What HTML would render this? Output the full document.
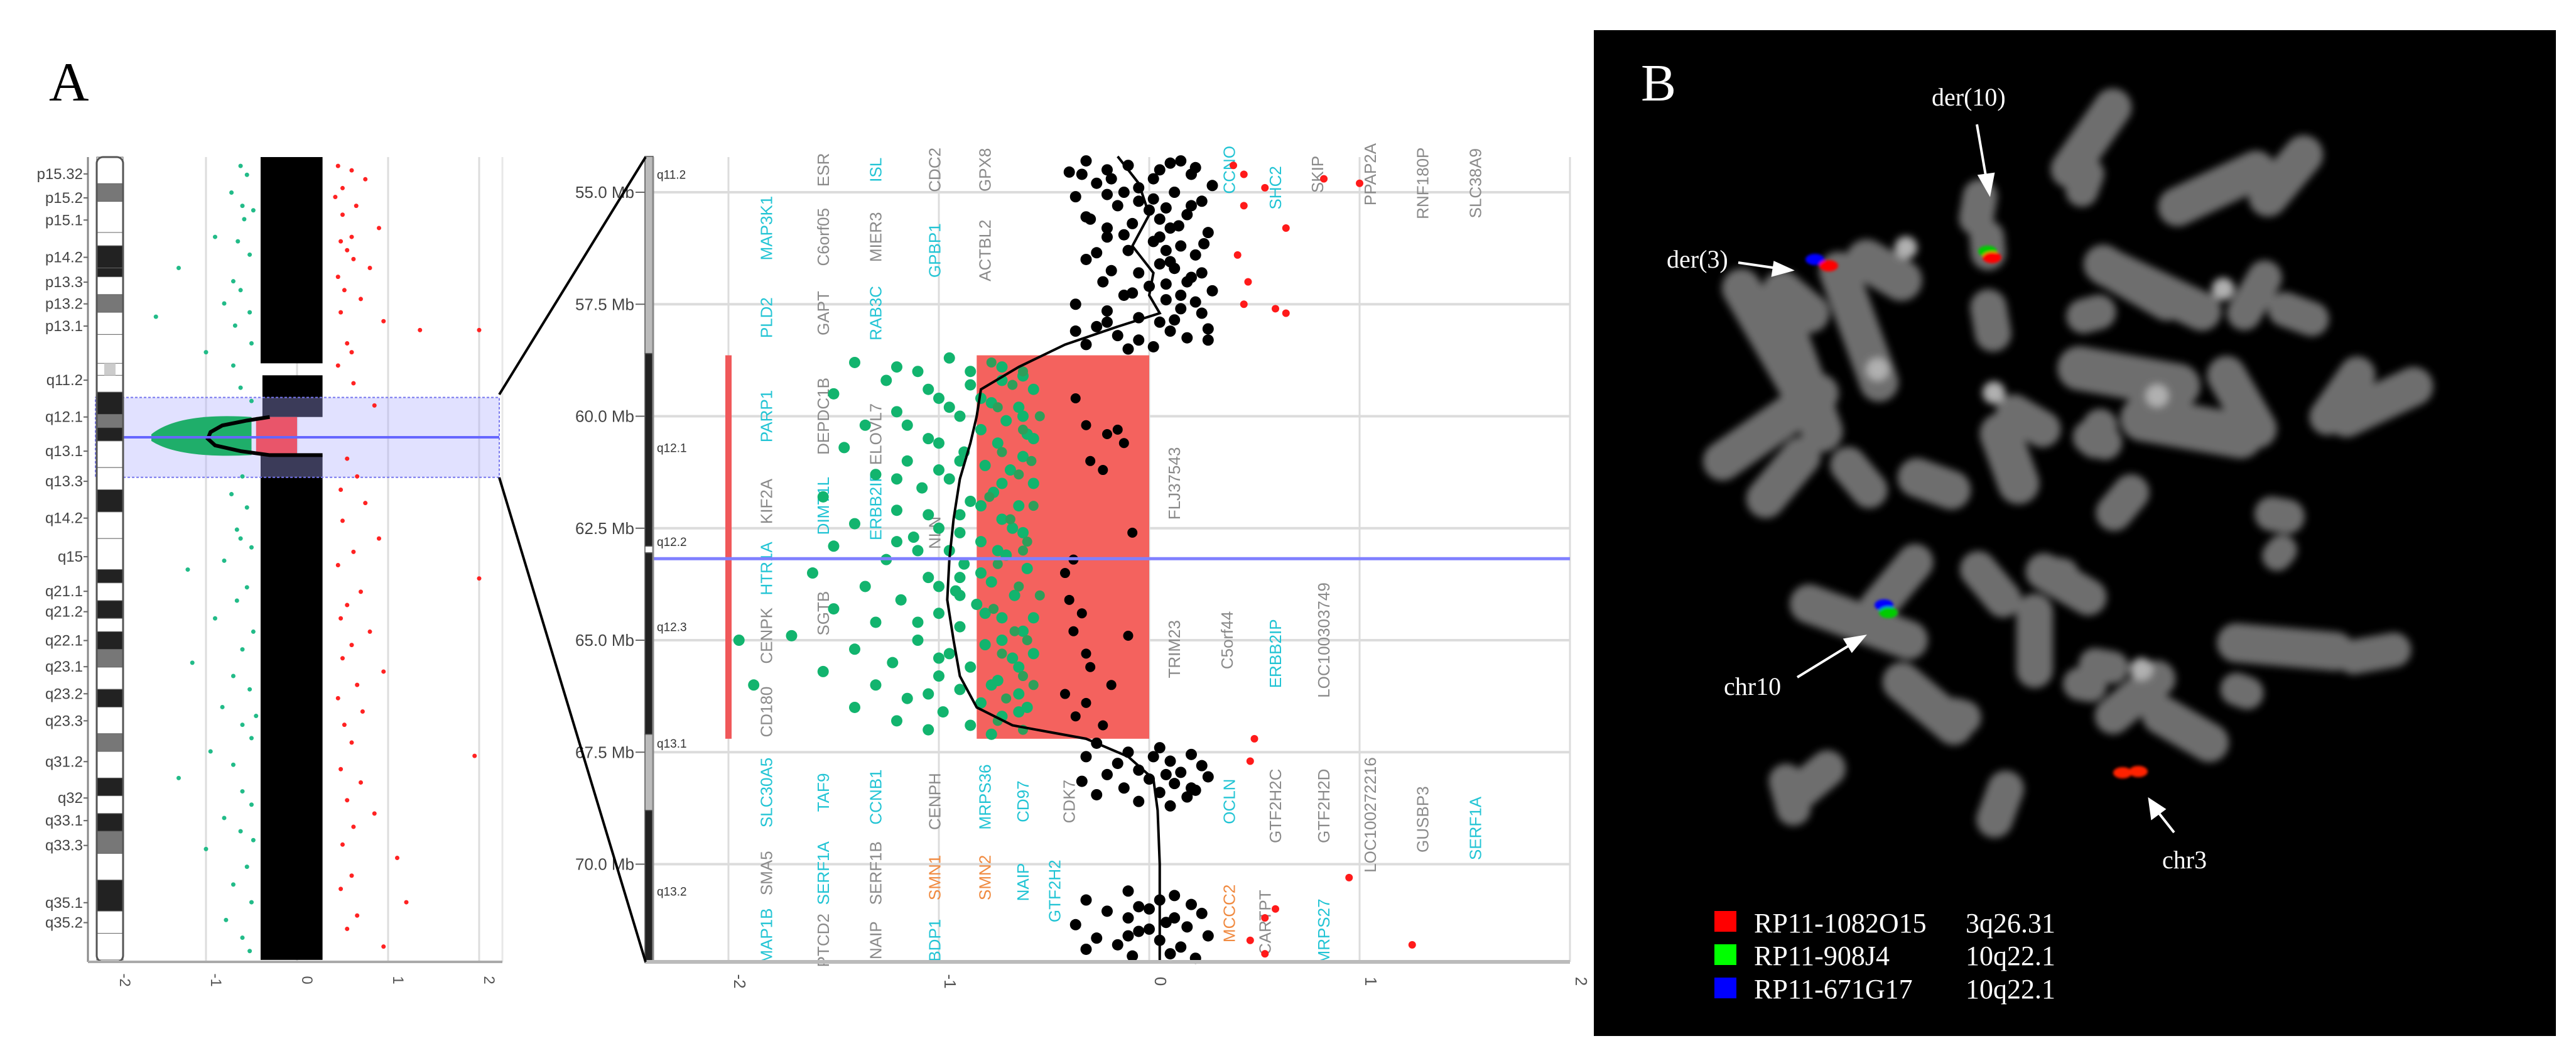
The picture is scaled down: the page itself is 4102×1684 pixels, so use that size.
<!DOCTYPE html>
<html><head><meta charset="utf-8"><style>
html,body{margin:0;padding:0;background:#fff;}
svg{display:block;}
text{font-family:"Liberation Sans",sans-serif;}
text.serif,.serif text{font-family:"Liberation Serif",serif;}
</style></head><body>
<svg id="fig" width="4102" height="1684" viewBox="0 0 4102 1684" xmlns="http://www.w3.org/2000/svg">
<defs>
<filter id="blur" x="-30%" y="-30%" width="160%" height="160%"><feGaussianBlur stdDeviation="6"/></filter>
<filter id="blur2"><feGaussianBlur stdDeviation="2"/></filter>
</defs>
<text class="serif" x="78" y="160" font-size="88">A</text>
<g id="left"></g>
<g id="right"></g>
<g id="zoomlines">
<line x1="795" y1="628" x2="1028" y2="250" stroke="#000" stroke-width="4"/>
<line x1="795" y1="760" x2="1028" y2="1531" stroke="#000" stroke-width="4"/>
</g>
<g id="panelB">
<rect x="2538" y="48" width="1532" height="1601" fill="#000"/>
<g id="chroms" filter="url(#blur)"></g>
<g id="signals" filter="url(#blur2)"></g>
<text class="serif" x="2613" y="160" font-size="84" fill="#fff">B</text>
<g fill="#fff" class="serif" font-size="40">
<text x="3076" y="168">der(10)</text>
<text x="2654" y="426">der(3)</text>
<text x="2745" y="1106">chr10</text>
<text x="3443" y="1382">chr3</text>
</g>
<g stroke="#fff" stroke-width="4" fill="#fff">
<line x1="3148" y1="198" x2="3163" y2="285"/><polygon points="3168,308 3152,280 3174,277"/>
<line x1="2768" y1="418" x2="2830" y2="427"/><polygon points="2852,430 2826,418 2823,438"/>
<line x1="2862" y1="1078" x2="2950" y2="1024"/><polygon points="2968,1013 2938,1018 2949,1036"/>
<line x1="3462" y1="1325" x2="3436" y2="1292"/><polygon points="3423,1273 3427,1302 3446,1288"/>
</g>
<g class="serif" font-size="44" fill="#fff">
<rect x="2730" y="1450" width="35" height="33" fill="#ff0000"/>
<text x="2793" y="1484">RP11-1082O15</text><text x="3130" y="1484">3q26.31</text>
<rect x="2730" y="1503" width="35" height="33" fill="#00ff00"/>
<text x="2793" y="1536">RP11-908J4</text><text x="3130" y="1536">10q22.1</text>
<rect x="2730" y="1556" width="35" height="33" fill="#0000ff"/>
<text x="2793" y="1589">RP11-671G17</text><text x="3130" y="1589">10q22.1</text>
</g>
</g>
</svg>
<script>
const NS='http://www.w3.org/2000/svg';
function mk(p,t,a){const e=document.createElementNS(NS,t);for(const k in a)e.setAttribute(k,a[k]);p.appendChild(e);return e;}

// ---------- LEFT PANEL DATA ----------
const leftTicks=[-2,-1,0,1,2];
const leftBands=['p15.32','p15.2','p15.1','p14.2','p13.3','p13.2','p13.1','q11.2','q12.1','q13.1','q13.3','q14.2','q15','q21.1','q21.2','q22.1','q23.1','q23.2','q23.3','q31.2','q32','q33.1','q33.3','q35.1','q35.2'];
const leftBandPos=[3.8,9.2,14.2,22.6,28.2,33.1,38.1,50.3,58.6,66.3,73.1,81.4,90.1,97.9,102.5,109,114.9,121,127.1,136.3,144.5,149.6,155.2,168.1,172.6];
const ideoStart=[0,6,10,17,20,25,27,31,35,40,46.5,49.2,53,58,61,64,70,75,80,86,93,96,100,104,107,111,115,120,124,130,134,140,144,148,152,157,163,170,175];
const ideoShade=[0,2,0,0,3,3,0,2,0,0,-1,0,3,2,3,0,0,3,0,0,3,0,3,0,3,2,0,3,0,2,0,3,0,3,2,0,3,0,0];
const blackCloud=[[0,46.5,-0.4,0.28],[49.2,58.6,-0.38,0.28],[67.2,181,-0.4,0.28]];
const shiftedSeg=[[58.6,67.2,-0.45,0.0]];
const leftGreen=[[2,-0.62],[4,-0.55],[8,-0.72],[12,-0.48],[14,-0.58],[18,-0.9],[19,-0.65],[22,-0.52],[25,-1.3],[28,-0.7],[30,-0.62],[33,-0.8],[35,-0.52],[36,-1.55],[38,-0.68],[42,-0.5],[44,-1.0],[52,-0.62],[55,-0.5],[72,-0.6],[76,-0.72],[79,-0.55],[84,-0.66],[88,-0.5],[91,-0.8],[93,-1.2],[97,-0.55],[100,-0.66],[104,-0.9],[107,-0.48],[111,-0.6],[114,-1.15],[117,-0.7],[120,-0.52],[124,-0.82],[128,-0.6],[131,-0.5],[134,-0.95],[137,-0.7],[140,-1.3],[143,-0.6],[146,-0.5],[149,-0.8],[152,-0.62],[156,-1.0],[160,-0.55],[164,-0.7],[168,-0.5],[172,-0.78],[176,-0.6],[179,-0.52],[11,-0.6],[47,-0.7],[86,-0.62],[126,-0.45],[154,-0.48]];
const leftRed=[[2,0.45],[3,0.6],[5,0.75],[7,0.5],[9,0.42],[11,0.65],[13,0.5],[16,0.9],[19,0.48],[21,0.55],[23,0.62],[25,0.8],[27,0.45],[30,0.52],[32,0.7],[35,0.48],[37,0.95],[39,1.35],[42,0.55],[44,0.6],[47,0.45],[51,0.62],[56,0.85],[68,0.55],[72,0.66],[75,0.48],[78,0.75],[82,0.5],[86,0.9],[89,0.62],[92,0.45],[95,2.0],[98,0.7],[101,0.55],[104,0.48],[107,0.8],[110,0.6],[113,0.5],[116,0.95],[119,0.66],[122,0.45],[125,0.72],[128,0.52],[132,0.6],[135,1.95],[138,0.48],[141,0.7],[145,0.55],[148,0.85],[151,0.62],[155,0.5],[158,1.1],[162,0.6],[165,0.48],[168,1.2],[171,0.66],[174,0.55],[178,0.95],[39,2.0],[18,0.6]];
const leftCurve=[[58.6,-0.3],[59.4,-0.55],[60.5,-0.82],[62,-0.95],[63.5,-0.98],[65,-0.9],[66.3,-0.62],[67.2,-0.3]];

const L=document.getElementById('left');
const lx=v=>473+v*145, ly=mb=>250+mb*7.06;
leftTicks.forEach(t=>{if(t>-2){const g=mk(L,'line',{x1:lx(t),x2:lx(t),y1:250,y2:1531,stroke:'#ddd','stroke-width':3});
}});
mk(L,'line',{x1:800,x2:800,y1:250,y2:1531,stroke:'#e8e8e8','stroke-width':3});
blackCloud.forEach(b=>{const r=mk(L,'rect',{x:lx(b[2]),y:ly(b[0]),width:lx(b[3])-lx(b[2]),height:ly(b[1])-ly(b[0]),fill:'#000'});
});
const hb=mk(L,'rect',{x:152,y:ly(54.2),width:643,height:ly(72.2)-ly(54.2),fill:'rgba(170,170,255,0.35)',stroke:'#7777ee','stroke-width':2,'stroke-dasharray':'4 3'});

shiftedSeg.forEach(b=>{const r=mk(L,'rect',{x:lx(b[2]),y:ly(b[0]),width:lx(b[3])-lx(b[2]),height:ly(b[1])-ly(b[0]),fill:'#e9556a'});
});
mk(L,'path',{d:'M'+lx(-1.6)+' '+ly(62.5)+' Q'+lx(-1.3)+' '+ly(57.5)+' '+lx(-0.5)+' '+ly(58.6)+' L'+lx(-0.5)+' '+ly(67.2)+' Q'+lx(-1.3)+' '+ly(68)+' '+lx(-1.6)+' '+ly(64)+'Z',fill:'#1fae6a'});
leftGreen.forEach(p=>{const c=mk(L,'circle',{cx:lx(p[1]),cy:ly(p[0]),r:3.5,fill:'#22bb88'});
});
leftRed.forEach(p=>{const c=mk(L,'circle',{cx:lx(p[1]),cy:ly(p[0]),r:3.5,fill:'#ff2222'});
});
const lc=mk(L,'polyline',{points:leftCurve.map(p=>lx(p[1])+','+ly(p[0])).join(' ')+' '+lx(0.28)+','+ly(67.2)+' '+lx(-0.3)+','+ly(67.2),fill:'none',stroke:'#000','stroke-width':6});

mk(L,'line',{x1:152,x2:795,y1:ly(63.18),y2:ly(63.18),stroke:'#6666ff','stroke-width':4});
const shades=['#fff','#bbb','#777','#222'];
ideoStart.forEach((s,i)=>{const e=i+1<ideoStart.length?ideoStart[i+1]:181;if(ideoShade[i]<0)return;
const r=mk(L,'rect',{x:154,y:ly(s),width:42,height:ly(e)-ly(s),fill:shades[ideoShade[i]],stroke:'#666','stroke-width':1});
});
mk(L,'rect',{x:154,y:250,width:42,height:1281,fill:'none',stroke:'#555','stroke-width':3,rx:10});
mk(L,'rect',{x:166,y:ly(46.5),width:18,height:ly(49.2)-ly(46.5),fill:'#ccc'});
mk(L,'line',{x1:140,x2:140,y1:250,y2:1531,stroke:'#888','stroke-width':3});
mk(L,'line',{x1:140,x2:800,y1:1531,y2:1531,stroke:'#aaa','stroke-width':4});
leftBands.forEach((b,i)=>{const t=mk(L,'text',{x:132,y:ly(leftBandPos[i])+8,'font-size':24,'text-anchor':'end',fill:'#444'});t.textContent=b;

mk(L,'line',{x1:133,x2:140,y1:ly(leftBandPos[i]),y2:ly(leftBandPos[i]),stroke:'#666','stroke-width':2});});
leftTicks.forEach(t=>{const tx=mk(L,'text',{x:0,y:0,'font-size':24,fill:'#555','text-anchor':'middle',transform:'translate('+(lx(t)+8)+',1560) rotate(90)'});tx.textContent=t;
});

// ---------- RIGHT PANEL DATA ----------
const rightTicks=[-2,-1,0,1,2];
const mbTicks=[55.0,57.5,60.0,62.5,65.0,67.5,70.0];
const rBandNames=['q11.2','q12.1','q12.2','q12.3','q13.1','q13.2'];
const rBandPos=[54.6,60.7,62.8,64.7,67.3,70.6];
const rIdeoStart=[54.2,58.6,62.9,63.05,67.1,68.8];
const rIdeoShade=[1,3,0,3,1,3];
const blackTop=[[54.3,-0.3],[54.35,0.1],[54.4,-0.1],[54.45,0.22],[54.5,0.05],[54.55,-0.38],[54.6,0.2],[54.7,-0.18],[54.8,-0.25],[54.85,0.3],[54.9,-0.05],[55.0,0.12],[55.05,-0.2],[55.1,-0.35],[55.15,0.02],[55.2,0.25],[55.3,-0.15],[55.35,0.08],[55.4,0.0],[55.5,0.18],[55.55,-0.3],[55.6,-0.28],[55.7,-0.08],[55.75,0.14],[55.8,0.1],[55.9,0.28],[55.95,-0.12],[56.0,-0.2],[56.1,0.02],[56.15,0.26],[56.2,0.15],[56.3,-0.1],[56.35,-0.25],[56.4,0.22],[56.5,-0.3],[56.55,0.1],[56.6,0.05],[56.7,0.12],[56.75,-0.18],[56.8,-0.05],[56.9,0.2],[57.0,-0.22],[57.05,0.08],[57.1,0.0],[57.2,0.3],[57.25,-0.08],[57.3,-0.12],[57.4,0.08],[57.45,0.22],[57.5,-0.35],[57.6,0.15],[57.65,-0.2],[57.7,0.25],[57.8,-0.05],[57.85,0.12],[57.9,0.05],[58.0,-0.25],[58.05,0.28],[58.1,0.1],[58.2,-0.15],[58.25,0.18],[58.3,0.28],[58.4,-0.3],[58.45,0.02],[58.5,-0.1],[56.0,0.05],[55.2,-0.05],[57.0,0.18],[58.3,-0.05],[54.5,-0.2],[54.3,0.15],[54.7,0.02],[55.0,-0.12],[55.6,0.05],[56.3,0.08],[56.8,0.25],[57.3,0.15],[57.9,-0.2],[58.1,-0.35],[55.3,0.2],[55.8,-0.2],[54.6,-0.32]];
const greenPts=[[58.7,-0.95],[58.8,-1.4],[58.9,-0.7],[59.0,-1.1],[59.1,-0.6],[59.2,-1.25],[59.3,-0.85],[59.4,-0.55],[59.5,-1.5],[59.6,-1.0],[59.7,-0.75],[59.8,-0.62],[59.9,-1.2],[60.0,-0.9],[60.1,-0.68],[60.2,-1.35],[60.3,-0.8],[60.4,-0.58],[60.5,-1.05],[60.6,-0.72],[60.7,-1.45],[60.8,-0.88],[60.9,-0.6],[61.0,-1.15],[61.1,-0.78],[61.2,-0.66],[61.3,-1.3],[61.4,-0.95],[61.5,-0.55],[61.6,-1.08],[61.7,-0.74],[61.8,-1.55],[61.9,-0.85],[62.0,-0.62],[62.1,-1.2],[62.2,-0.9],[62.3,-0.7],[62.4,-1.4],[62.5,-1.0],[62.6,-0.6],[62.7,-1.12],[62.8,-0.8],[62.9,-1.5],[63.0,-0.95],[63.1,-0.68],[63.2,-1.25],[63.3,-0.88],[63.4,-0.58],[63.5,-1.6],[63.6,-1.05],[63.7,-0.75],[63.8,-1.35],[63.9,-0.92],[64.0,-0.64],[64.1,-1.18],[64.2,-0.82],[64.3,-1.5],[64.4,-1.0],[64.5,-0.7],[64.6,-1.3],[64.7,-0.9],[64.8,-0.6],[64.9,-1.7],[65.0,-1.1],[65.1,-0.78],[65.2,-1.4],[65.3,-0.95],[65.4,-0.65],[65.5,-1.22],[65.6,-0.85],[65.7,-1.55],[65.8,-1.0],[65.9,-0.72],[66.0,-1.3],[66.1,-0.9],[66.2,-0.62],[66.3,-1.15],[66.4,-0.8],[66.5,-1.4],[66.6,-0.98],[66.7,-0.7],[66.8,-1.2],[66.9,-0.85],[67.0,-1.05],[67.1,-0.75],[59.2,-0.7],[60.0,-0.6],[61.0,-0.9],[62.0,-0.8],[63.0,-0.72],[64.0,-0.9],[65.0,-0.7],[66.0,-0.75],[60.5,-0.55],[62.5,-0.65],[64.5,-0.55],[66.5,-0.58],[65.0,-1.95],[66.0,-1.88],[61.5,-0.7],[63.5,-0.8],[59.6,-0.8],[58.9,-1.2],[62.8,-1.2],[65.3,-0.55],[59.0,-0.85],[59.8,-0.95],[60.6,-1.0],[61.4,-1.2],[62.2,-1.05],[63.0,-1.1],[63.8,-1.0],[64.6,-1.1],[65.4,-1.0],[66.2,-1.05],[59.4,-1.05],[60.2,-1.15],[61.2,-1.0],[62.6,-0.9],[63.6,-0.9],[64.4,-0.78],[65.6,-0.62],[66.6,-0.62]];
const greenInBox=[[58.8,-0.75],[59.3,-0.65],[59.8,-0.72],[60.3,-0.6],[60.8,-0.7],[61.3,-0.62],[61.8,-0.76],[62.3,-0.66],[62.8,-0.58],[63.3,-0.72],[63.8,-0.62],[64.3,-0.74],[64.8,-0.64],[65.3,-0.7],[65.8,-0.6],[66.3,-0.68],[66.8,-0.72],[60.0,-0.52],[62.0,-0.55],[64.0,-0.52],[66.0,-0.55],[59.0,-0.6],[61.0,-0.56],[63.0,-0.6],[65.0,-0.58],[67.0,-0.6]];
const blackBox=[[59.6,-0.35],[60.2,-0.3],[60.3,-0.15],[60.4,-0.2],[60.6,-0.12],[61.0,-0.28],[61.2,-0.22],[62.6,-0.08],[63.2,-0.36],[63.5,-0.4],[64.1,-0.38],[64.4,-0.32],[64.8,-0.36],[65.3,-0.3],[65.6,-0.28],[66.0,-0.18],[66.2,-0.4],[66.4,-0.3],[66.7,-0.35],[66.9,-0.22],[64.9,-0.1]];
const blackBot=[[67.3,-0.25],[67.4,0.05],[67.5,-0.1],[67.55,0.2],[67.6,-0.3],[67.7,0.1],[67.75,-0.15],[67.8,0.25],[67.9,-0.05],[67.95,0.15],[68.0,-0.2],[68.05,0.28],[68.1,0.0],[68.15,-0.32],[68.2,0.12],[68.3,-0.12],[68.35,0.22],[68.4,0.05],[68.45,-0.25],[68.5,0.18],[68.6,-0.05],[68.7,0.1],[70.6,-0.1],[70.7,0.12],[70.8,-0.3],[70.9,0.2],[71.0,0.0],[71.05,-0.2],[71.1,0.25],[71.2,-0.1],[71.3,0.08],[71.35,-0.35],[71.4,0.18],[71.5,-0.05],[71.6,0.28],[71.65,-0.25],[71.7,0.05],[71.8,-0.15],[71.85,0.15],[71.9,-0.3],[72.0,0.1],[72.05,-0.08],[72.1,0.22],[71.45,0.0],[70.95,-0.05],[67.6,0.02],[68.0,0.08],[68.3,0.2],[71.2,0.12],[71.6,-0.1],[70.8,0.05]];
const redPts=[[54.4,0.4],[54.6,0.45],[54.9,0.55],[55.3,0.45],[55.8,0.65],[56.4,0.42],[57.0,0.47],[57.5,0.45],[57.6,0.6],[57.7,0.65],[54.8,1.0],[54.7,0.83],[67.2,0.5],[67.7,0.48],[70.3,0.95],[71.2,0.55],[71.7,0.48],[72.0,0.55],[71.0,0.6],[71.8,1.25]];
const smoothLine=[[54.2,-0.15],[54.8,-0.05],[55.5,0.0],[56.2,-0.08],[56.8,0.02],[57.3,0.0],[57.7,0.05],[58.0,-0.15],[58.4,-0.4],[58.9,-0.62],[59.4,-0.8],[60.0,-0.82],[60.6,-0.85],[61.4,-0.9],[62.3,-0.93],[63.2,-0.95],[64.1,-0.96],[65.0,-0.93],[65.8,-0.9],[66.5,-0.82],[66.9,-0.65],[67.2,-0.3],[67.6,-0.1],[68.1,0.02],[68.8,0.04],[70.0,0.05],[72.2,0.05]];
const genes=[["MAP3K1",-1.82,55.8,"c"],["PLD2",-1.82,57.8,"c"],["PARP1",-1.82,60.0,"c"],["KIF2A",-1.82,61.9,"g"],["HTR1A",-1.82,63.4,"c"],["CENPK",-1.82,64.9,"g"],["CD180",-1.82,66.6,"g"],["SLC30A5",-1.82,68.4,"c"],["SMA5",-1.82,70.2,"g"],["MAP1B",-1.82,71.6,"c"],
["ESR",-1.55,54.5,"g"],["C6orf05",-1.55,56.0,"g"],["GAPT",-1.55,57.7,"g"],["DEPDC1B",-1.55,60.0,"g"],["DIMT1L",-1.55,62.0,"c"],["SGTB",-1.55,64.4,"g"],["TAF9",-1.55,68.4,"c"],["SERF1A",-1.55,70.2,"c"],["PTCD2",-1.55,71.7,"g"],
["ISL",-1.3,54.5,"c"],["MIER3",-1.3,56.0,"g"],["RAB3C",-1.3,57.7,"c"],["ELOVL7",-1.3,60.4,"g"],["ERBB2IP",-1.3,62.0,"c"],["CCNB1",-1.3,68.5,"c"],["SERF1B",-1.3,70.2,"g"],["NAIP",-1.3,71.7,"g"],
["CDC2",-1.02,54.5,"g"],["GPBP1",-1.02,56.3,"c"],["NLN",-1.02,62.6,"g"],["CENPH",-1.02,68.6,"g"],["SMN1",-1.02,70.3,"o"],["BDP1",-1.02,71.7,"c"],
["GPX8",-0.78,54.5,"g"],["ACTBL2",-0.78,56.3,"g"],["MRPS36",-0.78,68.5,"c"],["SMN2",-0.78,70.3,"o"],
["CD97",-0.6,68.6,"c"],["NAIP",-0.6,70.4,"c"],["GTF2H2",-0.45,70.6,"c"],["CDK7",-0.38,68.6,"g"],
["CCNO",0.38,54.5,"c"],["OCLN",0.38,68.6,"c"],["MCCC2",0.38,71.1,"o"],["FLJ37543",0.12,61.5,"g"],["TRIM23",0.12,65.2,"g"],["C5orf44",0.37,65.0,"g"],
["SHC2",0.6,54.9,"c"],["ERBB2IP",0.6,65.3,"c"],["GTF2H2C",0.6,68.7,"g"],["CARTPT",0.55,71.3,"g"],
["SKIP",0.8,54.6,"g"],["LOC100303749",0.83,65.0,"g"],["GTF2H2D",0.83,68.7,"g"],["MRPS27",0.83,71.5,"c"],
["PPAP2A",1.05,54.6,"g"],["LOC100272216",1.05,68.9,"g"],["RNF180P",1.3,54.8,"g"],["GUSBP3",1.3,69.0,"g"],["SLC38A9",1.55,54.8,"g"],["SERF1A",1.55,69.2,"c"]];

const R=document.getElementById('right');
const rx=v=>1830+v*335, ry=mb=>306+(mb-55)*71.3;
const gcol={c:'#22c4d4',g:'#8a8a8a',o:'#f08a40'};
mbTicks.forEach(m=>{const g=mk(R,'line',{x1:1040,x2:2500,y1:ry(m),y2:ry(m),stroke:'#dcdcdc','stroke-width':4});
});
rightTicks.forEach(t=>{const g=mk(R,'line',{x1:rx(t),x2:rx(t),y1:250,y2:1531,stroke:'#dcdcdc','stroke-width':3});
});
genes.forEach(g=>{const t=mk(R,'text',{'font-size':26,fill:gcol[g[3]],'text-anchor':'middle',transform:'translate('+(rx(g[1])+9)+','+ry(g[2])+') rotate(-90)'});t.textContent=g[0];
});
const box=mk(R,'rect',{x:rx(-0.82),y:ry(58.64),width:rx(0)-rx(-0.82),height:ry(67.2)-ry(58.64),fill:'#f4625e'});

const bar=mk(R,'rect',{x:rx(-2)-5,y:ry(58.64),width:10,height:ry(67.2)-ry(58.64),fill:'#f0585a'});

function pts(arr,col,r,name){arr.forEach(p=>{const c=mk(R,'circle',{cx:rx(p[1]),cy:ry(p[0]),r:r,fill:col});
});}
pts(blackTop,'#000',9,'probe-point-normal');
pts(greenPts,'#12b46e',9,'probe-point-loss');
pts(greenInBox,'#2f9e5a',8,'probe-point-loss');
pts(blackBox,'#000',8,'probe-point-in-loss');
pts(blackBot,'#000',9,'probe-point-normal');
pts(redPts,'#ff1a1a',6,'probe-point-gain');
const sl=mk(R,'polyline',{points:smoothLine.map(p=>rx(p[1])+','+ry(p[0])).join(' '),fill:'none',stroke:'#000','stroke-width':4});

const bl=mk(R,'line',{x1:1040,x2:2500,y1:ry(63.18),y2:ry(63.18),stroke:'#8080ff','stroke-width':5});

rIdeoStart.forEach((s,i)=>{const e=i+1<rIdeoStart.length?rIdeoStart[i+1]:72.2;
const r=mk(R,'rect',{x:1027,y:ry(s),width:13,height:ry(e)-ry(s),fill:shades[rIdeoShade[i]],stroke:'#555','stroke-width':1.5});
});
mk(R,'line',{x1:1040,x2:1040,y1:250,y2:1531,stroke:'#888','stroke-width':3});
mk(R,'line',{x1:1028,x2:2500,y1:1531,y2:1531,stroke:'#bbb','stroke-width':6});
rBandNames.forEach((b,i)=>{const t=mk(R,'text',{x:1046,y:ry(rBandPos[i])+7,'font-size':19,fill:'#333'});t.textContent=b;
});
mbTicks.forEach(m=>{const t=mk(R,'text',{x:1010,y:ry(m)+9,'font-size':26,'text-anchor':'end',fill:'#444'});t.textContent=m.toFixed(1)+' Mb';

mk(R,'line',{x1:1012,x2:1027,y1:ry(m),y2:ry(m),stroke:'#666','stroke-width':2});});
rightTicks.forEach(t=>{const tx=mk(R,'text',{x:0,y:0,'font-size':26,fill:'#555','text-anchor':'middle',transform:'translate('+(rx(t)+9)+',1562) rotate(90)'});tx.textContent=t;
});

// ---------- PANEL B chromosomes ----------
const chromCx=[2820,3150,3330,3320,3530,3165,3000,2860,2960,2870,3400,3330,3430,3640,3590,3660,3790,3390,3490,3570,3340,2820,2840,2960,3080,3200,3230,3340,3630,3730,3640,3780,3020,3170,3290,3270,2960,3070,3120,3240,3320,3400,3480,3350,3570,3630,3170,3380,2890,2850,3185];
const chromCy=[540,330,220,290,300,390,430,480,520,600,450,500,460,280,470,500,640,600,680,640,690,680,760,760,770,730,670,700,820,630,1030,1040,930,930,930,910,990,1120,1140,1020,1090,1110,1160,1060,1100,880,510,800,1240,1265,1280];
const chromLen=[250,90,180,80,200,80,130,120,250,250,180,80,230,150,120,100,180,230,230,160,80,250,150,110,120,150,110,80,80,140,220,120,150,120,140,80,230,170,70,150,70,150,150,80,70,60,100,100,110,100,110];
const chromW=[62,55,60,52,62,55,66,62,62,66,62,55,62,62,55,55,62,70,72,62,55,62,62,58,62,66,58,55,55,58,62,55,58,58,58,48,62,62,55,58,52,58,62,52,52,48,58,58,58,55,58];
const chromAng=[-30,10,35,20,65,-5,-60,-50,-20,-20,-60,75,-65,40,30,-70,65,-80,-80,-30,20,55,40,-40,-70,-20,-60,-70,-80,35,-85,80,40,-40,-60,-80,-70,-50,-75,0,-80,50,-60,-80,-70,40,-10,40,50,-15,20];
const CH=document.getElementById('chroms');
chromCx.forEach((x,i)=>{const l=chromLen[i],w=chromW[i];
const r=mk(CH,'rect',{x:x-w/2,y:chromCy[i]-l/2,width:w,height:l,rx:w/2,fill:'#6e6e6e',transform:'rotate('+chromAng[i]+' '+x+' '+chromCy[i]+')'});
});
[[3035,394],[2990,588],[3435,630],[3540,460],[3175,625],[3410,1065]].forEach(p=>mk(CH,'circle',{cx:p[0],cy:p[1],r:18,fill:'#b0b0b0'}));
const SG=document.getElementById('signals');
const sigX=[2890,2912,3165,3172,3000,3007,3380,3405];
const sigY=[413,423,400,410,963,975,1230,1228];
const sigC=['#0000ff','#ff0000','#00cc00','#ff0000','#0000ff','#00cc00','#ff2200','#ff2200'];
sigX.forEach((x,i)=>{const c=mk(SG,'ellipse',{cx:x,cy:sigY[i],rx:15,ry:9,fill:sigC[i]});
});
</script>
</body></html>
